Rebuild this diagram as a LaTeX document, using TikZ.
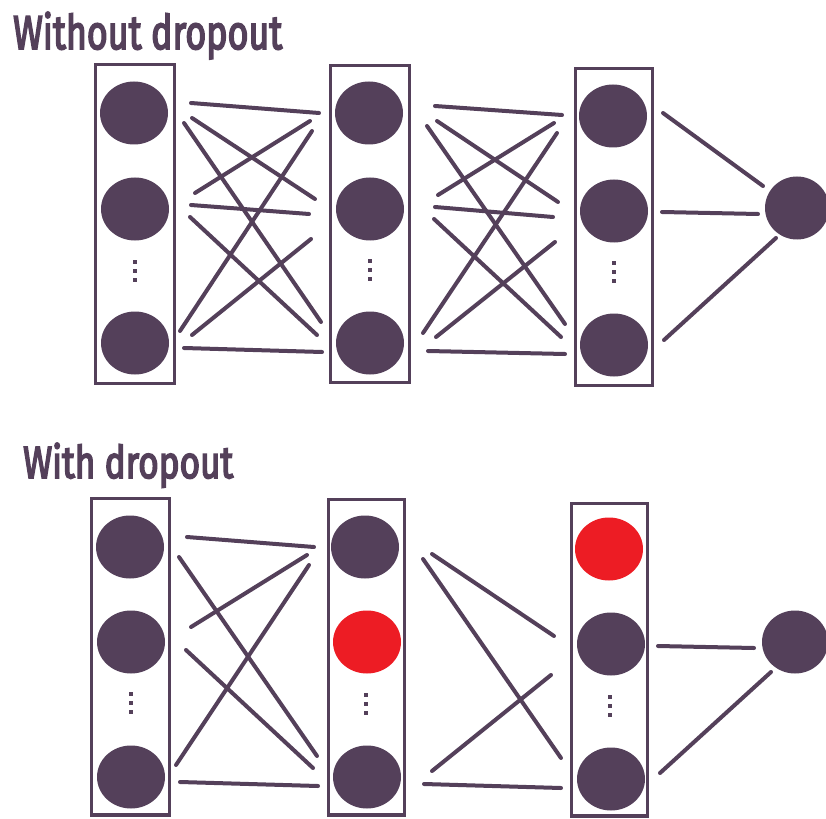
\documentclass[tikz,border=0pt]{standalone}
\usepackage{fontspec}
\setmainfont{Fira Sans}
\newfontfamily\titlefont{Fira Sans}[FakeBold=4]
\usetikzlibrary{shapes.geometric}
\definecolor{np}{RGB}{84,64,90}
\definecolor{drop}{RGB}{237,28,36}
\tikzset{
  unit/.style={ellipse, fill=np, inner sep=0pt, minimum width=68pt, minimum height=63pt},
  dropped/.style={unit, fill=drop},
  layerbox/.style={draw=np, line width=3.2pt},
  link/.style={draw=np, line width=4pt, line cap=round},
  title/.style={anchor=base west, inner sep=0pt, text=np, font=\titlefont}
}
% connector between two units, each end shifted from the unit centre
\newcommand{\wire}[6]{\draw[link] ([shift={(#2,#3)}]#1.center) -- ([shift={(#5,#6)}]#4.center);}
% vertical ellipsis made of three small squares
\newcommand{\vdotsq}[2]{\foreach \k in {0,1,2}{\fill[np] (#1-1.8,#2-1.8+9*\k) rectangle ++(3.6,3.6);}}
\begin{document}
\begin{tikzpicture}[x=1pt,y=-1pt]
\useasboundingbox (0,0) rectangle (826,818);
\fill[white] (0,0) rectangle (826,818);

% ---------- network without dropout ----------
\node[title] (t1) at (13,49) {\resizebox{269pt}{37pt}{Without dropout}};

\draw[layerbox] (95.5,64.5) rectangle (174.5,383.5);
\draw[layerbox] (330.5,65.5) rectangle (409.5,382.5);
\draw[layerbox] (575.5,68.5) rectangle (652.5,385.5);

\node[unit] (a1) at (134,113) {};
\node[unit] (a2) at (135,209) {};
\node[unit] (a3) at (135,343) {};
\node[unit] (b1) at (369,113) {};
\node[unit] (b2) at (370,209) {};
\node[unit] (b3) at (370,343) {};
\node[unit] (c1) at (613,116) {};
\node[unit] (c2) at (614,211) {};
\node[unit] (c3) at (614,345) {};
\node[unit, minimum width=64pt] (o) at (797,208) {};

\vdotsq{135}{262}
\vdotsq{370}{261}
\vdotsq{614}{263}

\wire{a1}{57}{-10}{b1}{-50}{0}
\wire{a1}{58}{5}{b2}{-55}{-10}
\wire{a1}{50}{10}{b3}{-49}{-21}
\wire{a2}{60}{-16}{b1}{-59}{8}
\wire{a2}{56}{-4}{b2}{-61}{5}
\wire{a2}{55}{8}{b3}{-53}{-8}
\wire{a3}{45}{-12}{b1}{-57}{18}
\wire{a3}{57}{-8}{b2}{-59}{30}
\wire{a3}{49}{5}{b3}{-48}{9}

\wire{b1}{66}{-7}{c1}{-51}{-1}
\wire{b1}{68}{8}{c2}{-56}{-9}
\wire{b1}{58}{13}{c3}{-49}{-21}
\wire{b2}{68}{-14}{c1}{-59}{7}
\wire{b2}{65}{-2}{c2}{-61}{6}
\wire{b2}{64}{10}{c3}{-53}{-8}
\wire{b3}{53}{-10}{c1}{-56}{17}
\wire{b3}{66}{-6}{c2}{-59}{31}
\wire{b3}{58}{8}{c3}{-49}{9}

\wire{c1}{50}{-3}{o}{-34}{-22}
\wire{c2}{48}{1}{o}{-39}{6}
\wire{c3}{50}{-5}{o}{-21}{30}

% ---------- network with dropout ----------
\node[title] (t2) at (23,478) {\resizebox{210pt}{35pt}{With dropout}};

\draw[layerbox] (91.5,498.5) rectangle (169.5,815);
\draw[layerbox] (328.5,499.5) rectangle (404.5,815);
\draw[layerbox] (571.5,503.5) rectangle (647.5,816);

\node[unit] (d1) at (130,547) {};
\node[unit] (d2) at (131,642) {};
\node[unit] (d3) at (131,777) {};
\node[unit] (e1) at (365,547) {};
\node[dropped] (e2) at (367,642) {};
\node[unit] (e3) at (367,777) {};
\node[dropped] (f1) at (609,549) {};
\node[unit] (f2) at (611,644) {};
\node[unit] (f3) at (611,779) {};
\node[unit, minimum width=66pt] (p) at (795,642) {};

\vdotsq{131}{694}
\vdotsq{366}{695}
\vdotsq{610}{697}

\wire{d1}{57}{-10}{e1}{-51}{0}
\wire{d1}{49}{10}{e3}{-50}{-21}
\wire{d2}{60}{-15}{e1}{-58}{8}
\wire{d2}{55}{8}{e3}{-54}{-9}
\wire{d3}{45}{-12}{e1}{-56}{18}
\wire{d3}{49}{5}{e3}{-49}{9}

\wire{e1}{67}{7}{f2}{-57}{-8}
\wire{e1}{58}{12}{f3}{-50}{-21}
\wire{e3}{65}{-6}{f2}{-60}{31}
\wire{e3}{57}{7}{f3}{-50}{9}

\wire{f2}{47}{2}{p}{-41}{6}
\wire{f3}{49}{-6}{p}{-24}{30}
\end{tikzpicture}
\end{document}
